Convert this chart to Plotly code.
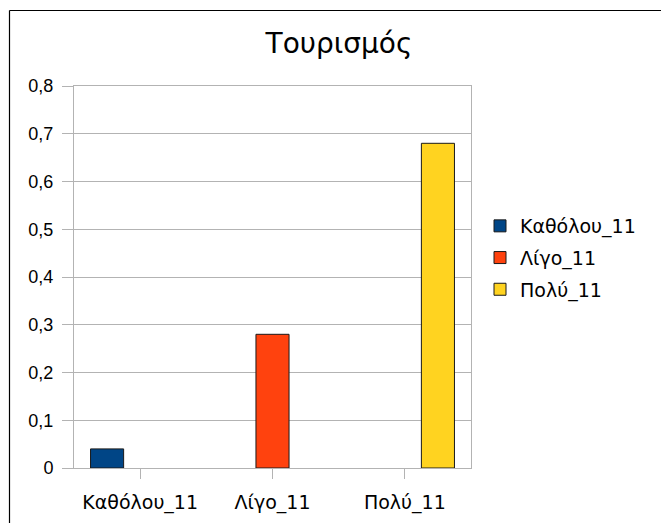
import plotly.graph_objects as go

categories = ["Καθόλου_11", "Λίγο_11", "Πολύ_11"]
series_names = ["Καθόλου_11", "Λίγο_11", "Πολύ_11"]
kathólou_values = [0.04, None, None]
ligo_values = [None, 0.28, None]
poly_values = [None, None, 0.68]
y_tick_values = [0, 0.1, 0.2, 0.3, 0.4, 0.5, 0.6, 0.7, 0.8]
title_text = "Τουρισμός"

colors = ["#004586", "#ff420e", "#ffd320"]
all_values = [kathólou_values, ligo_values, poly_values]

# page body has an 8px margin; keep the figure inside the window (no scrollbars)
OFF = 8
W, H = 669 - 2 * OFF, 531 - 2 * OFF
L = 74 - OFF
T = 86 - OFF
R = W + OFF - 471
B = H + OFF - 468
pw, ph = W - L - R, H - T - B

def px(x):
    return (x - OFF - L) / pw

def py(y):
    return (H - B - (y - OFF)) / ph

fig = go.Figure()
for i, (name, vals) in enumerate(zip(series_names, all_values)):
    fig.add_trace(go.Bar(
        x=categories, y=vals, name=name,
        marker=dict(color=colors[i], line=dict(color="#1a1a1a", width=1)),
        legendgroup=name,
    ))

font = "Liberation Sans, Arial, sans-serif"
gfont = "DejaVu Sans, sans-serif"
frame = dict(color="black", width=1.2)
fig.update_layout(
    width=W, height=H,
    margin=dict(l=L, r=R, t=T, b=B, autoexpand=False),
    paper_bgcolor="white", plot_bgcolor="white",
    separators=",.",
    barmode="group", bargap=0.25, bargroupgap=0,
    font=dict(family=font, size=18, color="black"),
    title=dict(text=title_text, x=(339 - OFF) / W, xanchor="center",
               y=1 - (43 - OFF) / H, yanchor="middle",
               font=dict(family=gfont, size=28, color="black")),
    showlegend=True,
    legend=dict(x=px(480), xanchor="left", y=py(258), yanchor="middle",
                font=dict(size=19, family=gfont), tracegroupgap=4,
                bgcolor="rgba(0,0,0,0)"),
    xaxis=dict(showgrid=False, showline=True, linecolor="#b3b3b3", linewidth=1, mirror=True,
               ticks="outside", ticklen=10, tickcolor="#b3b3b3",
               tickfont=dict(size=19, family=gfont), ticklabelstandoff=7),
    yaxis=dict(range=[0, 0.8], tickvals=y_tick_values, showgrid=True, gridcolor="#b3b3b3",
               showline=True, linecolor="#b3b3b3", linewidth=1, mirror=True,
               ticks="outside", ticklen=11, tickcolor="#b3b3b3", tickfont=dict(size=18),
               zeroline=False, ticklabelstandoff=5),
    shapes=[
        dict(type="line", xref="paper", yref="paper",
             x0=px(9.5), x1=px(9.5), y0=py(531), y1=py(10.5), line=frame, layer="above"),
        dict(type="line", xref="paper", yref="paper",
             x0=px(9.5), x1=px(669), y0=py(10.5), y1=py(10.5), line=frame, layer="above"),
    ],
)

fig.write_html("out.html")
